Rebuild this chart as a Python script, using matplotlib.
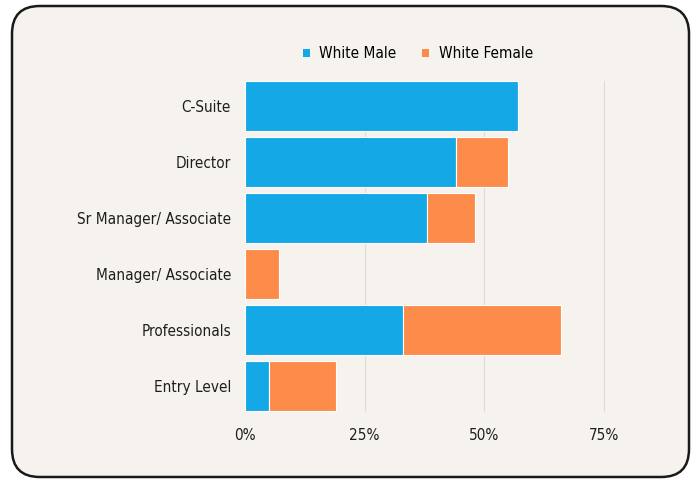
import matplotlib.pyplot as plt
from matplotlib.patches import FancyBboxPatch

# job levels, top to bottom
levels = ["C-Suite", "Director", "Sr Manager/ Associate", "Manager/ Associate",
          "Professionals", "Entry Level"]
white_male = [57, 44, 38, 0, 33, 5]
white_female = [0, 11, 10, 7, 33, 14]
xticks = [0, 25, 50, 75]
xtick_labels = ["0%", "25%", "50%", "75%"]

blue = "#14a9e6"
orange = "#fd8c4b"
bg = "#f6f3ee"

plt.rcParams["font.family"] = ["DejaVu Sans"]
plt.rcParams["font.stretch"] = "condensed"

fig = plt.figure(figsize=(6.96, 4.79), dpi=100)
fig.patch.set_facecolor("white")

# rounded card behind everything
card = FancyBboxPatch((12 / 696, 2 / 479), 677 / 696, 471 / 479,
                      boxstyle="round,pad=0,rounding_size=0.04",
                      transform=fig.transFigure, facecolor=bg,
                      edgecolor="#1a1a1a", linewidth=1.8, zorder=-5,
                      mutation_aspect=696 / 479)
fig.patches.append(card)

ax = fig.add_axes([245 / 696, 1 - 414 / 479, (628 - 245) / 696, (414 - 78) / 479])
ax.set_facecolor("none")
ax.set_zorder(2)

y = list(range(len(levels)))
ax.barh(y, white_male, height=0.9, color=blue, edgecolor="white", linewidth=0.8,
        label="White Male", zorder=3)
ax.barh(y, white_female, left=white_male, height=0.9, color=orange,
        edgecolor="white", linewidth=0.8, label="White Female", zorder=3)

ax.set_ylim(len(levels) - 0.5, -0.5)
ax.set_xlim(0, 80)
ax.set_yticks(y)
ax.set_yticklabels(levels, fontsize=11, color="#1e1e1e")
ax.set_xticks(xticks)
ax.set_xticklabels(xtick_labels, fontsize=11, color="#1e1e1e")
ax.tick_params(length=0, axis="y", pad=10)
ax.tick_params(length=0, axis="x", pad=10)

for t in xticks[1:]:
    ax.axvline(t, ymin=0.01, ymax=0.99, color="#dedcd8", linewidth=0.8, zorder=1)
for s in ax.spines.values():
    s.set_visible(False)

leg = fig.legend(loc="center", bbox_to_anchor=(418 / 696, 1 - 54 / 479), ncol=2,
                 frameon=False, fontsize=11, handlelength=0.45, handleheight=0.45,
                 handletextpad=0.6, columnspacing=1.7)
for h in leg.legend_handles:
    h.set_edgecolor("none")

fig.savefig("out.png", dpi=100, facecolor="white")
